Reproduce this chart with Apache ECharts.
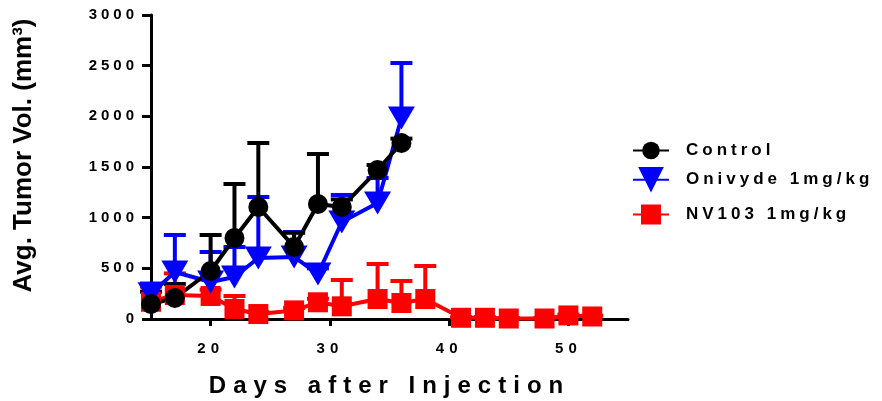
<!DOCTYPE html>
<html>
<head>
<meta charset="utf-8">
<script src="https://cdn.jsdelivr.net/npm/echarts@6/dist/echarts.min.js"></script>
<style>
  html, body { margin: 0; padding: 0; background: #fff; }
  #chart { width: 882px; height: 401px; }
</style>
</head>
<body>
<div id="chart"></div>
<script>
// Letter-spaced canvas text: a font family token "spN" asks for N px tracking.
(function () {
  const proto = CanvasRenderingContext2D.prototype;
  const re = /\bsp(\d+)\b/;
  function track(ctx) {
    const m = re.exec(ctx.font);
    const v = m ? m[1] + 'px' : '0px';
    if (ctx.letterSpacing !== v) ctx.letterSpacing = v;
  }
  ['fillText', 'strokeText', 'measureText'].forEach(function (fn) {
    const orig = proto[fn];
    proto[fn] = function () { track(this); return orig.apply(this, arguments); };
  });
})();

// Tumor volume (mean and SEM, mm^3) by day after injection
const days = [15, 17, 20, 22, 24, 27, 29, 31, 34, 36];
const controlMean = [148, 207, 474, 799, 1105, 711, 1135, 1105, 1470, 1737];
const controlSem  = [122, 138, 355, 533, 632, 140, 493, 75, 50, 43];
const onivydeMean = [250, 464, 365, 414, 602, 612, 444, 957, 1145, 1983];
const onivydeSem  = [100, 365, 296, 296, 602, 246, 56, 267, 246, 543];
const nvDays = [15, 17, 20, 22, 24, 27, 29, 31, 34, 36, 38, 41, 43, 45, 48, 50, 52];
const nvMean = [170, 237, 227, 99, 49, 85, 165, 125, 197, 158, 197, 12, 12, 5, 5, 35, 25];
const nvSem  = [150, 213, 63, 128, 21, 25, 35, 260, 346, 217, 326, 6, 6, 5, 5, 8, 8];
const dayTicks = [20, 30, 40, 50];
const seriesNames = ['Control', 'Onivyde 1mg/kg', 'NV103 1mg/kg'];

const FONT = '"Liberation Sans", Arial, sans-serif';
function spaced(px) { return 'sp' + px + ', ' + FONT; }

function pairs(xs, ys) { return xs.map(function (x, i) { return [x, ys[i]]; }); }
function triples(xs, ys, es) { return xs.map(function (x, i) { return [x, ys[i], es[i]]; }); }

// Upper-only error bars with a flat cap
function errorBars(color) {
  return function (params, api) {
    const x = api.value(0), m = api.value(1), e = api.value(2);
    const p0 = api.coord([x, m]);
    const p1 = api.coord([x, m + e]);
    const half = 11;
    return {
      type: 'group',
      children: [
        { type: 'line', shape: { x1: p0[0], y1: p0[1], x2: p1[0], y2: p1[1] },
          style: { stroke: color, lineWidth: 4 } },
        { type: 'line', shape: { x1: p1[0] - half, y1: p1[1], x2: p1[0] + half, y2: p1[1] },
          style: { stroke: color, lineWidth: 4 } }
      ]
    };
  };
}

const BLACK = '#000000', BLUE = '#0000ff', RED = '#ff0000';

function legendFor(name, top, itemHeight) {
  return {
    data: [name], orient: 'vertical', left: 632, top: top, padding: 0,
    itemWidth: 36, itemHeight: itemHeight,
    selectedMode: false,
    textStyle: { fontSize: 17, fontWeight: 'bold', color: '#000', fontFamily: spaced(4),
                 padding: [0, 0, 0, 12] }
  };
}

const chart = echarts.init(document.getElementById('chart'), null, { renderer: 'canvas' });
chart.setOption({
  animation: false,
  backgroundColor: '#ffffff',
  grid: { left: 151, top: 15, right: 254, bottom: 82, containLabel: false, outerBoundsMode: 'none' },
  legend: [
    legendFor(seriesNames[0], 140, 22),
    legendFor(seriesNames[1], 167, 32),
    legendFor(seriesNames[2], 204, 25)
  ],
  xAxis: {
    type: 'value', min: 15, max: 55,
    name: 'Days after Injection', nameLocation: 'middle', nameGap: 52,
    nameTextStyle: { fontSize: 24, fontWeight: 'bold', color: '#000', fontFamily: spaced(7) },
    axisLine: { onZero: false, lineStyle: { color: '#000', width: 3 } },
    axisTick: { show: true, length: 7, customValues: dayTicks, lineStyle: { color: '#000', width: 3 } },
    axisLabel: { customValues: dayTicks, margin: 20, fontSize: 15, fontWeight: 'bold',
                 color: '#000', fontFamily: spaced(5), formatter: function (v) { return String(v); } },
    splitLine: { show: false }
  },
  yAxis: {
    type: 'value', min: 0, max: 3000, interval: 500,
    name: 'Avg. Tumor Vol. (mm³)', nameLocation: 'middle', nameGap: 114, nameRotate: 90,
    nameTextStyle: { fontSize: 26, fontWeight: 'bold', color: '#000', fontFamily: FONT,
                     padding: [0, 0, 0, 23] },
    axisLine: { show: true, lineStyle: { color: '#000', width: 3 } },
    axisTick: { show: true, length: 9, lineStyle: { color: '#000', width: 3 } },
    axisLabel: { margin: 13, fontSize: 15, fontWeight: 'bold', color: '#000', fontFamily: spaced(4),
                 formatter: function (v) { return String(v); } },
    splitLine: { show: false }
  },
  series: [
    { name: 'NV103 SEM', type: 'custom', renderItem: errorBars(RED),
      encode: { x: 0, y: 1 }, data: triples(nvDays, nvMean, nvSem), z: 2 },
    { name: seriesNames[2], type: 'line', data: pairs(nvDays, nvMean), z: 2,
      symbol: 'rect', symbolSize: 20, itemStyle: { color: RED },
      lineStyle: { color: RED, width: 4 } },
    { name: 'Onivyde SEM', type: 'custom', renderItem: errorBars(BLUE),
      encode: { x: 0, y: 1 }, data: triples(days, onivydeMean, onivydeSem), z: 2 },
    { name: seriesNames[1], type: 'line', data: pairs(days, onivydeMean), z: 2,
      symbol: 'triangle', symbolRotate: 180, symbolSize: [27, 23], itemStyle: { color: BLUE },
      lineStyle: { color: BLUE, width: 4 } },
    { name: 'Control SEM', type: 'custom', renderItem: errorBars(BLACK),
      encode: { x: 0, y: 1 }, data: triples(days, controlMean, controlSem), z: 2 },
    { name: seriesNames[0], type: 'line', data: pairs(days, controlMean), z: 2,
      symbol: 'circle', symbolSize: 20, itemStyle: { color: BLACK },
      lineStyle: { color: BLACK, width: 4 } }
  ]
});
</script>
</body>
</html>
